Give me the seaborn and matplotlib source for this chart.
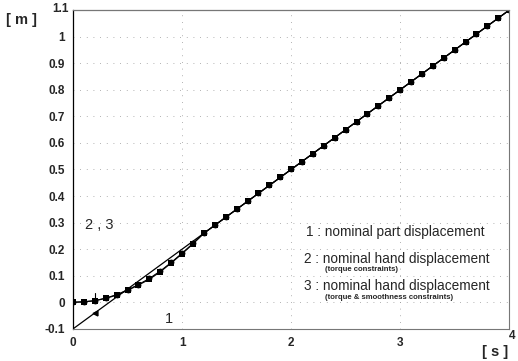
import numpy as np
import pandas as pd
import matplotlib
matplotlib.use("Agg")
import matplotlib.pyplot as plt
import seaborn as sns

# ---- data ----
time_s = [0.0, 0.1, 0.2, 0.3, 0.4, 0.5, 0.6, 0.7, 0.8, 0.9,
          1.0, 1.1, 1.2, 1.3, 1.4, 1.5, 1.6, 1.7, 1.8, 1.9,
          2.0, 2.1, 2.2, 2.3, 2.4, 2.5, 2.6, 2.7, 2.8, 2.9,
          3.0, 3.1, 3.2, 3.3, 3.4, 3.5, 3.6, 3.7, 3.8, 3.9, 4.0]
hand_torque = [0.000, 0.002, 0.006, 0.015, 0.027, 0.045, 0.065, 0.087, 0.115, 0.148,
               0.183, 0.220, 0.260, 0.290, 0.320, 0.350, 0.380, 0.410, 0.440, 0.470,
               0.500, 0.530, 0.560, 0.590, 0.620, 0.650, 0.680, 0.710, 0.740, 0.770,
               0.800, 0.830, 0.860, 0.890, 0.920, 0.950, 0.980, 1.010, 1.040, 1.070, 1.100]
hand_smooth = [0.000, 0.002, 0.006, 0.016, 0.029, 0.047, 0.067, 0.090, 0.118, 0.150,
               0.185, 0.222, 0.260, 0.290, 0.320, 0.350, 0.380, 0.410, 0.440, 0.470,
               0.500, 0.530, 0.560, 0.590, 0.620, 0.650, 0.680, 0.710, 0.740, 0.770,
               0.800, 0.830, 0.860, 0.890, 0.920, 0.950, 0.980, 1.010, 1.040, 1.070, 1.100]
part_time = [0.0, 4.0]
part_disp = [-0.1, 1.1]
y_ticks = [-0.1, 0, 0.1, 0.2, 0.3, 0.4, 0.5, 0.6, 0.7, 0.8, 0.9, 1, 1.1]
y_labels = ["-0.1", "0", "0.1", "0.2", "0.3", "0.4", "0.5", "0.6", "0.7", "0.8", "0.9", "1", ""]
x_ticks = [0, 1, 2, 3, 4]
x_labels = ["0", "1", "2", "3", ""]

sns.set_theme(style="white")
plt.rcParams['font.family'] = ['Liberation Sans', 'DejaVu Sans']

fig = plt.figure(figsize=(5.18, 3.61), dpi=100)
ax = fig.add_axes([0.141, 0.089, 0.842, 0.883])

df_part = pd.DataFrame({"t": part_time, "y": part_disp})
df_h2 = pd.DataFrame({"t": time_s, "y": hand_torque})
df_h3 = pd.DataFrame({"t": time_s, "y": hand_smooth})

sns.lineplot(data=df_part, x="t", y="y", ax=ax, color="black", lw=0.9)
sns.lineplot(data=df_h2, x="t", y="y", ax=ax, color="black", lw=0.9,
             marker="s", markersize=4.8, markeredgewidth=0)
sns.lineplot(data=df_h3, x="t", y="y", ax=ax, color="black", lw=0.7,
             marker="o", markersize=4.2, markeredgewidth=0)
# small marker on line 1
ax.plot([0.2], [-0.04], marker="<", color="black", markersize=3.5, lw=0)

ax.set_xlim(0, 4)
ax.set_ylim(-0.1, 1.1)
ax.set_xticks(x_ticks)
ax.set_xticklabels(x_labels)
ax.set_yticks(y_ticks)
ax.set_yticklabels(y_labels)
ax.tick_params(length=0, labelsize=8.5, pad=6)
for lab in ax.get_xticklabels() + ax.get_yticklabels():
    lab.set_fontweight("bold")
ax.set_xlabel("")
ax.set_ylabel("")

ax.grid(True, color="#999999", linestyle=(0, (1, 7)), linewidth=0.6)

for side in ["left", "top"]:
    ax.spines[side].set_visible(True)
    ax.spines[side].set_color("black" if side == "left" else "#777777")
    ax.spines[side].set_linewidth(0.9)
for side in ["right", "bottom"]:
    ax.spines[side].set_visible(True)
    ax.spines[side].set_linestyle((0, (1, 1)))
    ax.spines[side].set_color("#777777")
    ax.spines[side].set_linewidth(0.8)

# axis unit labels
fig.text(0.012, 0.945, "[ m ]", fontsize=10.5, fontweight="bold", ha="left", va="center")
fig.text(0.117, 0.975, "1.1", fontsize=8.5, fontweight="bold", ha="center", va="center")
fig.text(0.955, 0.025, "[ s ]", fontsize=10.5, fontweight="bold", ha="center", va="center")
fig.text(0.988, 0.068, "4", fontsize=8.5, fontweight="bold", ha="center", va="center")

# annotations
ax.text(0.11, 0.29, "2 , 3", fontsize=10.5, ha="left", va="center")
ax.text(0.84, -0.063, "1", fontsize=10.5, ha="left", va="center")
ax.plot([0.2, 0.2], [0.01, 0.035], color="black", lw=0.8)

ax.text(2.14, 0.263, "1 : nominal part displacement", fontsize=9.8, ha="left", va="center")
ax.text(2.12, 0.162, "2 : nominal hand displacement", fontsize=9.8, ha="left", va="center")
ax.text(2.31, 0.122, "(torque constraints)", fontsize=5.6, fontweight="bold", ha="left", va="center")
ax.text(2.12, 0.062, "3 : nominal hand displacement", fontsize=9.8, ha="left", va="center")
ax.text(2.31, 0.017, "(torque & smoothness constraints)", fontsize=5.6, fontweight="bold", ha="left", va="center")

fig.savefig("out.png", dpi=100)
